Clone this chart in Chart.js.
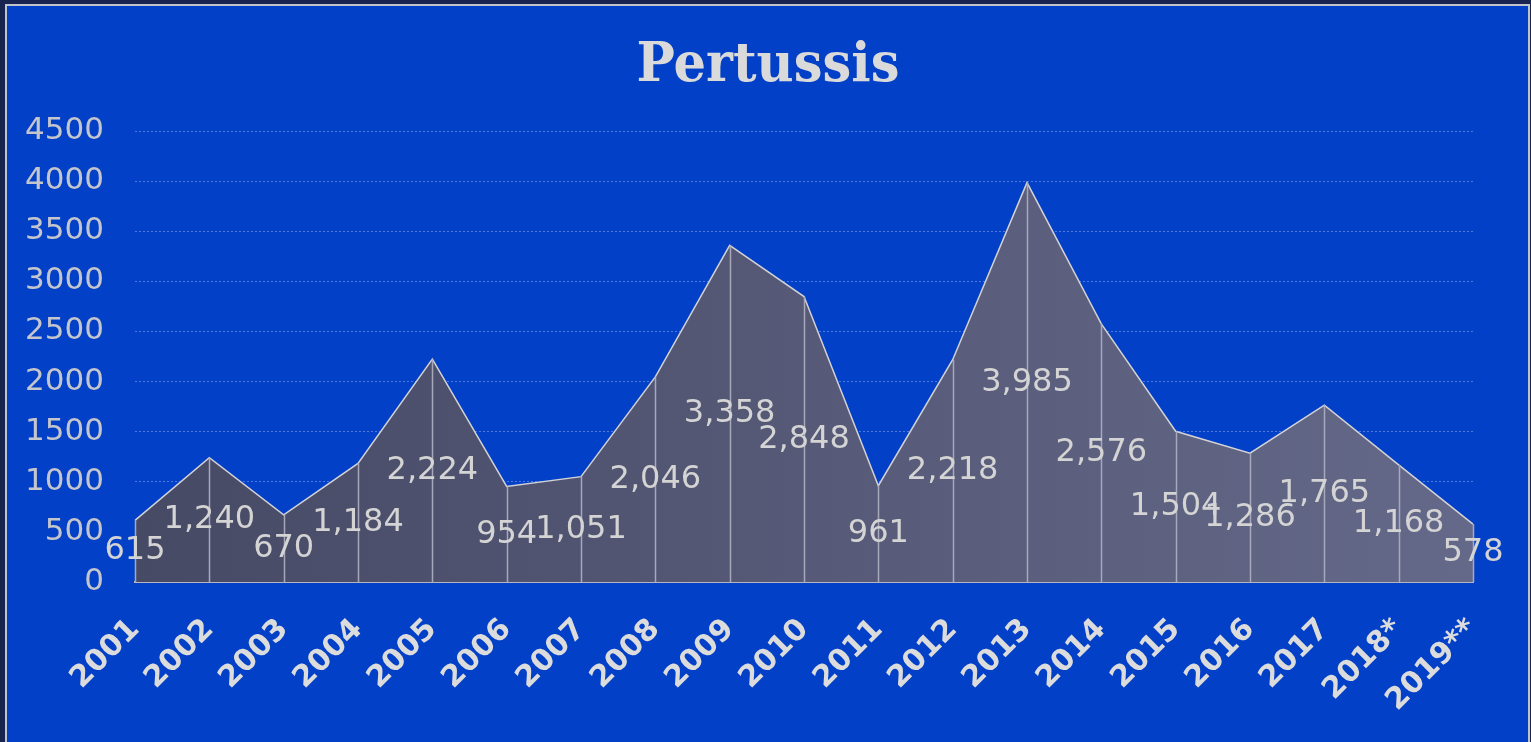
<!DOCTYPE html>
<html>
<head>
<meta charset="utf-8">
<script src="https://cdn.jsdelivr.net/npm/chart.js@4.4.1/dist/chart.umd.min.js"></script>
<style>
  html, body { margin: 0; padding: 0; background: #18234f; overflow: hidden; }
  #frame {
    position: absolute; left: 5px; top: 4px; width: 1521px; height: 760px;
    background: #0340c8; border: 2px solid #bfc3cc; border-bottom: none;
  }
  #chart { position: absolute; left: 0; top: 0; }
</style>
</head>
<body>
<div id="frame"></div>
<canvas id="chart" width="1531" height="742"></canvas>
<script>
// Pertussis cases by year
const years = ['2001', '2002', '2003', '2004', '2005', '2006', '2007', '2008', '2009', '2010',
  '2011', '2012', '2013', '2014', '2015', '2016', '2017', '2018*', '2019**'];
const cases = [615, 1240, 670, 1184, 2224, 954, 1051, 2046, 3358, 2848,
  961, 2218, 3985, 2576, 1504, 1286, 1765, 1168, 578];
const yTicks = [0, 500, 1000, 1500, 2000, 2500, 3000, 3500, 4000, 4500];
const chartTitle = 'Pertussis';

// title drawn above the plot
const titlePlugin = {
  id: 'slabTitle',
  afterDraw(chart) {
    const ctx = chart.ctx;
    ctx.save();
    ctx.font = 'bold 54px "DejaVu Serif"';
    ctx.fillStyle = '#dadada';
    ctx.textAlign = 'center';
    ctx.textBaseline = 'alphabetic';
    const w = ctx.measureText(chartTitle).width;
    ctx.translate(768, 81);
    ctx.scale(263 / w, 1);
    ctx.fillText(chartTitle, 0, 0);
    ctx.restore();
  }
};

// vertical drop lines and the value labels (at half height, like the original)
const dropAndLabels = {
  id: 'dropAndLabels',
  afterDatasetsDraw(chart) {
    const ctx = chart.ctx;
    const xs = chart.scales.x, ys = chart.scales.y;
    const base = ys.getPixelForValue(0);
    ctx.save();
    ctx.strokeStyle = '#a7a9bb';
    ctx.lineWidth = 1.5;
    cases.forEach((v, i) => {
      const x = Math.round(xs.getPixelForValue(i)) + 0.5;
      ctx.beginPath();
      ctx.moveTo(x, ys.getPixelForValue(v));
      ctx.lineTo(x, base);
      ctx.stroke();
    });
    ctx.font = '32px "DejaVu Sans"';
    ctx.fillStyle = '#d4d4d4';
    ctx.textAlign = 'center';
    ctx.textBaseline = 'middle';
    cases.forEach((v, i) => {
      ctx.fillText(v.toLocaleString('en-US'), xs.getPixelForValue(i), ys.getPixelForValue(v / 2));
    });
    ctx.restore();
  }
};

new Chart(document.getElementById('chart'), {
  type: 'line',
  data: {
    labels: years,
    datasets: [{
      data: cases,
      fill: 'origin',
      tension: 0,
      pointRadius: 0,
      borderColor: '#d2d2d6',
      borderWidth: 1.5,
      backgroundColor: (c) => {
        const a = c.chart.chartArea;
        if (!a) return '#4e5170';
        const g = c.chart.ctx.createLinearGradient(a.left, 0, a.right, 0);
        g.addColorStop(0, '#474a65');
        g.addColorStop(1, '#656989');
        return g;
      }
    }]
  },
  options: {
    responsive: false,
    animation: false,
    layout: { padding: { top: 131, right: 58, left: 0, bottom: 0 } },
    plugins: { legend: { display: false }, title: { display: false }, tooltip: { enabled: false } },
    scales: {
      x: {
        offset: false,
        grid: { display: false, drawTicks: false },
        border: { display: true, color: '#b4b6c4', width: 2 },
        ticks: {
          autoSkip: false, minRotation: 45, maxRotation: 45, padding: 30,
          color: '#dcdcdc', font: { family: 'DejaVu Sans', size: 30, weight: 'bold' }
        },
        afterFit(s) { s.height = 160; s.paddingLeft = 0; s.paddingRight = 0; }
      },
      y: {
        min: 0, max: 4500,
        afterBuildTicks(s) { s.ticks = yTicks.map(v => ({ value: v })); },
        grid: { color: '#4f78d8', lineWidth: 1, drawTicks: false },
        border: { display: false, dash: [2, 2] },
        ticks: {
          padding: 31, color: '#c4c6cc',
          font: { family: 'DejaVu Sans', size: 31 },
          callback: (v) => String(v)
        },
        afterFit(s) { s.width = 135; }
      }
    }
  },
  plugins: [titlePlugin, dropAndLabels]
});
</script>
</body>
</html>
